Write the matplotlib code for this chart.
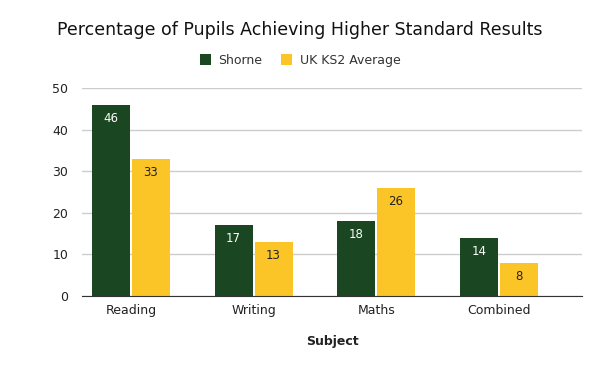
import matplotlib
matplotlib.use("Agg")
import matplotlib.pyplot as plt
import numpy as np

categories = ["Reading", "Writing", "Maths", "Combined"]
shorne = [46, 17, 18, 14]
uk_avg = [33, 13, 26, 8]
series_names = ["Shorne", "UK KS2 Average"]
colors = ["#1a4621", "#fcc527"]
yticks = [0, 10, 20, 30, 40, 50]

plt.rcParams['font.family'] = ['DejaVu Sans']
fig = plt.figure(figsize=(6.0, 3.71), dpi=100)
ax = fig.add_axes([0.1367, 0.2022, 0.8333, 0.5606])

x = np.arange(len(categories))
w = 0.31
gap = 0.008
b1 = ax.bar(x - w/2 - gap, shorne, width=w, color=colors[0], label=series_names[0], zorder=3)
b2 = ax.bar(x + w/2 + gap, uk_avg, width=w, color=colors[1], label=series_names[1], zorder=3)

for bars, vals, tc in ((b1, shorne, "white"), (b2, uk_avg, "#222222")):
    for r, v in zip(bars, vals):
        ax.annotate(str(v), (r.get_x() + r.get_width()/2, v), xytext=(0, -5),
                    textcoords="offset points", ha="center", va="top",
                    fontsize=8.5, color=tc, zorder=4)

ax.set_xlim(-0.40, 3.68)
ax.set_ylim(0, 50)
ax.set_yticks(yticks)
ax.set_xticks(x)
ax.set_xticklabels(categories)
ax.tick_params(axis="both", length=0, labelsize=9, colors="#222222")
ax.tick_params(axis="x", pad=6)
ax.tick_params(axis="y", pad=10)
ax.grid(axis="y", color="#cccccc", linewidth=1, zorder=0)
for s in ["top", "right", "left"]:
    ax.spines[s].set_visible(False)
ax.spines["bottom"].set_color("#333333")
ax.spines["bottom"].set_zorder(5)

ax.set_xlabel("Subject", fontsize=9, fontweight="bold", labelpad=13, color="#222222")
fig.text(0.5, 0.92, "Percentage of Pupils Achieving Higher Standard Results",
         ha="center", va="center", fontsize=12.5, color="#111111")
fig.legend(loc="center", bbox_to_anchor=(0.5, 0.838), ncol=2, frameon=False,
           fontsize=9, handlelength=0.9, handleheight=1.0, columnspacing=1.5,
           handletextpad=0.6, labelcolor="#333333")

fig.savefig("out.png", dpi=100)
